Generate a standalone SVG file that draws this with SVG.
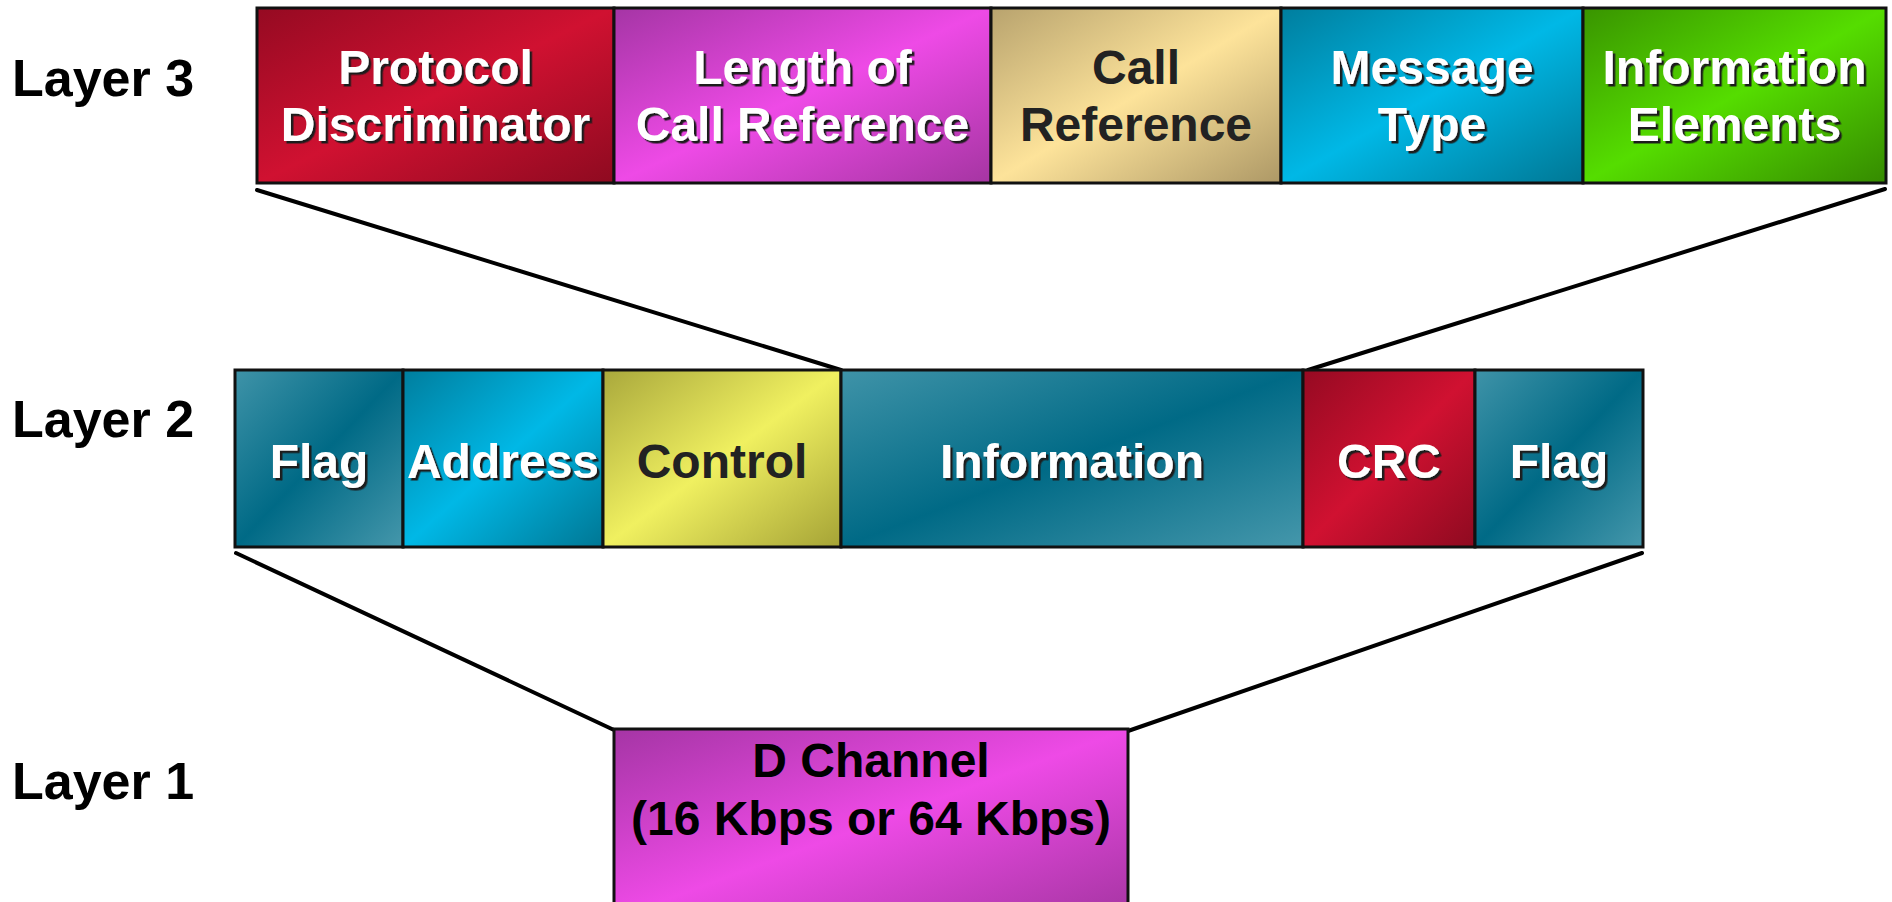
<svg xmlns="http://www.w3.org/2000/svg" width="1892" height="902" viewBox="0 0 1892 902">
<style>
.lbl{font-family:"Liberation Sans",Arial,sans-serif;font-weight:bold;font-size:52px;fill:#000}
.t{font-family:"Liberation Sans",Arial,sans-serif;font-weight:bold;font-size:48px;text-anchor:middle}
.w{fill:#fff;filter:url(#sh)}
.d{fill:#222}
.box{stroke:#111;stroke-width:3}
.conn{stroke:#000;stroke-width:4;fill:none;stroke-linecap:round}
</style>
<defs>
<filter id="sh" x="-5%" y="-20%" width="115%" height="150%">
<feDropShadow dx="2.5" dy="2.5" stdDeviation="0" flood-color="#1a1a1a" flood-opacity="1"/>
</filter>
<linearGradient id="gRed" x1="0" y1="0" x2="1" y2="1">
<stop offset="0" stop-color="#950a22"/><stop offset="0.5" stop-color="#d01131"/><stop offset="1" stop-color="#8e0a20"/>
</linearGradient>
<linearGradient id="gMag" x1="0" y1="0" x2="1" y2="1">
<stop offset="0" stop-color="#a535a5"/><stop offset="0.5" stop-color="#ee4ae6"/><stop offset="1" stop-color="#a535a2"/>
</linearGradient>
<linearGradient id="gTan" x1="0" y1="0" x2="1" y2="1">
<stop offset="0" stop-color="#b8a36e"/><stop offset="0.5" stop-color="#fde39a"/><stop offset="1" stop-color="#ad9866"/>
</linearGradient>
<linearGradient id="gCyan" x1="0" y1="0" x2="1" y2="1">
<stop offset="0" stop-color="#007e9e"/><stop offset="0.5" stop-color="#00b8e6"/><stop offset="1" stop-color="#007794"/>
</linearGradient>
<linearGradient id="gGreen" x1="0" y1="0" x2="1" y2="1">
<stop offset="0" stop-color="#399400"/><stop offset="0.5" stop-color="#55dd00"/><stop offset="1" stop-color="#358a00"/>
</linearGradient>
<linearGradient id="gTeal" x1="0" y1="0" x2="1" y2="1">
<stop offset="0" stop-color="#3f93a8"/><stop offset="0.5" stop-color="#006a86"/><stop offset="1" stop-color="#4597ab"/>
</linearGradient>
<linearGradient id="gYel" x1="0" y1="0" x2="1" y2="1">
<stop offset="0" stop-color="#a9a83c"/><stop offset="0.5" stop-color="#f0f060"/><stop offset="1" stop-color="#a5a336"/>
</linearGradient>
</defs>
<rect x="0" y="0" width="1892" height="902" fill="#fff"/>

<g id="labels">
<text class="lbl" x="12" y="96">Layer 3</text>
<text class="lbl" x="12" y="437">Layer 2</text>
<text class="lbl" x="12" y="799">Layer 1</text>
</g>

<g id="connectors">
<line class="conn" x1="257" y1="190" x2="841" y2="370"/>
<line class="conn" x1="1885" y1="189" x2="1308" y2="370"/>
<line class="conn" x1="236" y1="553" x2="614" y2="730"/>
<line class="conn" x1="1642" y1="553" x2="1128" y2="731"/>
</g>

<g id="l3-protocol-discriminator">
<rect class="box" x="257" y="8" width="357" height="175" fill="url(#gRed)"/>
<text class="t w" x="435.5" y="84">Protocol</text>
<text class="t w" x="435.5" y="141">Discriminator</text>
</g>
<g id="l3-length-call-reference">
<rect class="box" x="614" y="8" width="377" height="175" fill="url(#gMag)"/>
<text class="t w" x="802.5" y="84">Length of</text>
<text class="t w" x="802.5" y="141">Call Reference</text>
</g>
<g id="l3-call-reference">
<rect class="box" x="991" y="8" width="290" height="175" fill="url(#gTan)"/>
<text class="t d" x="1136" y="84">Call</text>
<text class="t d" x="1136" y="141">Reference</text>
</g>
<g id="l3-message-type">
<rect class="box" x="1281" y="8" width="302" height="175" fill="url(#gCyan)"/>
<text class="t w" x="1432" y="84">Message</text>
<text class="t w" x="1432" y="141">Type</text>
</g>
<g id="l3-information-elements">
<rect class="box" x="1583" y="8" width="303" height="175" fill="url(#gGreen)"/>
<text class="t w" x="1734.5" y="84">Information</text>
<text class="t w" x="1734.5" y="141">Elements</text>
</g>

<g id="l2-flag-1">
<rect class="box" x="235" y="370" width="168" height="177" fill="url(#gTeal)"/>
<text class="t w" x="319" y="478">Flag</text>
</g>
<g id="l2-address">
<rect class="box" x="403" y="370" width="200" height="177" fill="url(#gCyan)"/>
<text class="t w" x="503" y="478">Address</text>
</g>
<g id="l2-control">
<rect class="box" x="603" y="370" width="238" height="177" fill="url(#gYel)"/>
<text class="t d" x="722" y="478">Control</text>
</g>
<g id="l2-information">
<rect class="box" x="841" y="370" width="462" height="177" fill="url(#gTeal)"/>
<text class="t w" x="1072" y="478">Information</text>
</g>
<g id="l2-crc">
<rect class="box" x="1303" y="370" width="172" height="177" fill="url(#gRed)"/>
<text class="t w" x="1389" y="478">CRC</text>
</g>
<g id="l2-flag-2">
<rect class="box" x="1475" y="370" width="168" height="177" fill="url(#gTeal)"/>
<text class="t w" x="1559" y="478">Flag</text>
</g>

<g id="l1-d-channel">
<rect class="box" x="614" y="729" width="514" height="190" fill="url(#gMag)"/>
<text class="t" x="871" y="777" fill="#000">D Channel</text>
<text class="t" x="871" y="835" fill="#000" font-size="46">(16 Kbps or 64 Kbps)</text>
</g>
</svg>
